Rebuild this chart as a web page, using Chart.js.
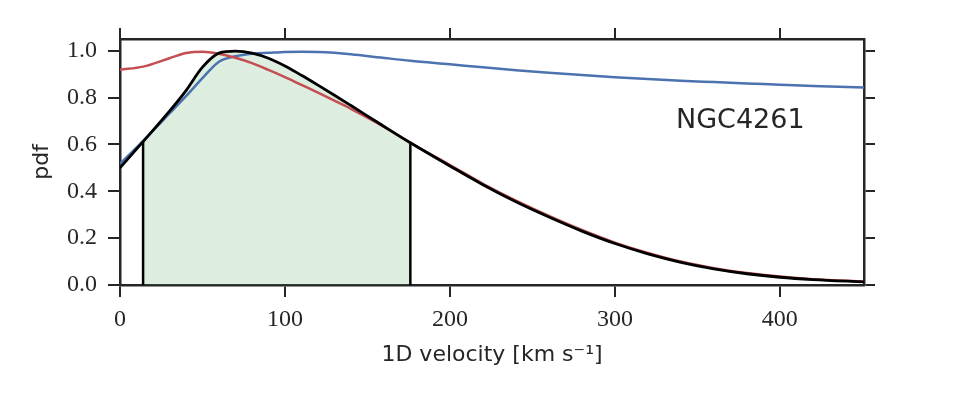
<!DOCTYPE html>
<html>
<head>
<meta charset="utf-8">
<script src="https://cdn.jsdelivr.net/npm/chart.js@4"></script>
<style>
  html, body { margin: 0; padding: 0; background: #fff; }
  #wrap { width: 960px; height: 396px; }
</style>
</head>
<body>
<div id="wrap"><canvas id="grafico"></canvas></div>
<script>
// velocity grid [km/s] and the three pdf curves
const velocity = [0, 14, 30, 40, 50, 60, 70, 80, 90, 100, 110, 120, 130, 140, 158, 176,
                  200, 220, 240, 260, 280, 300, 320, 340, 360, 380, 400, 420, 451];
const pdfBlue  = [0.517, 0.615, 0.732, 0.806, 0.883, 0.953, 0.976, 0.987, 0.991, 0.995, 0.996, 0.995, 0.991, 0.985, 0.971, 0.957,
                  0.942, 0.929, 0.917, 0.906, 0.896, 0.887, 0.879, 0.872, 0.866, 0.860, 0.855, 0.849, 0.843];
const pdfRed   = [0.919, 0.932, 0.968, 0.990, 0.996, 0.987, 0.970, 0.947, 0.918, 0.887, 0.854, 0.821, 0.787, 0.752, 0.683, 0.607,
                  0.512, 0.432, 0.360, 0.295, 0.235, 0.181, 0.137, 0.100, 0.072, 0.051, 0.036, 0.025, 0.015];
const pdfBlack = [0.500, 0.612, 0.742, 0.830, 0.930, 0.990, 0.998, 0.990, 0.968, 0.935, 0.895, 0.853, 0.810, 0.766, 0.686, 0.607,
                  0.508, 0.428, 0.355, 0.290, 0.230, 0.177, 0.133, 0.097, 0.069, 0.048, 0.033, 0.023, 0.013];

// shaded interval
const intervalLow = 14;
const intervalHigh = 176;

const xTicks = [0, 100, 200, 300, 400];
const yTicks = [0, 0.2, 0.4, 0.6, 0.8, 1.0];
const xMax = 451;
const yMax = 1.05;
const galaxyName = 'NGC4261';

const ink = '#262626';

function puntos(vals) {
    return velocity.map((v, i) => ({ x: v, y: vals[i] }));
}

function valorEn(vals, v) {
    const i = velocity.indexOf(v);
    return vals[i];
}

const relleno = puntos(pdfBlack).filter(p => p.x >= intervalLow && p.x <= intervalHigh);

const galaxyLabel = {
    id: 'galaxyLabel',
    afterDatasetsDraw(chart) {
        const { ctx, scales } = chart;
        ctx.save();
        ctx.font = '27px "DejaVu Sans"';
        ctx.fillStyle = ink;
        ctx.textAlign = 'center';
        ctx.textBaseline = 'middle';
        ctx.fillText(galaxyName, scales.x.getPixelForValue(376), scales.y.getPixelForValue(0.70));
        ctx.restore();
    }
};

const serifTicks = { family: '"Liberation Serif", "DejaVu Serif", serif', size: 24 };
const sansTitle = { family: '"DejaVu Sans", sans-serif', size: 22 };

const ctx = document.getElementById('grafico').getContext('2d');
new Chart(ctx, {
    type: 'line',
    data: {
        datasets: [
            {
                data: relleno,
                borderWidth: 0,
                pointRadius: 0,
                fill: 'origin',
                backgroundColor: 'rgba(85, 168, 104, 0.2)',
                cubicInterpolationMode: 'monotone',
                order: 5
            },
            {
                data: puntos(pdfBlue),
                borderColor: '#4c72b0',
                borderWidth: 2.5,
                pointRadius: 0,
                fill: false,
                cubicInterpolationMode: 'monotone',
                order: 4
            },
            {
                data: puntos(pdfRed),
                borderColor: '#c44e52',
                borderWidth: 2.5,
                pointRadius: 0,
                fill: false,
                cubicInterpolationMode: 'monotone',
                order: 3
            },
            {
                data: [{ x: intervalLow, y: 0 }, { x: intervalLow, y: valorEn(pdfBlack, intervalLow) }],
                borderColor: '#000',
                borderWidth: 2.5,
                pointRadius: 0,
                fill: false,
                order: 2
            },
            {
                data: [{ x: intervalHigh, y: 0 }, { x: intervalHigh, y: valorEn(pdfBlack, intervalHigh) }],
                borderColor: '#000',
                borderWidth: 2.5,
                pointRadius: 0,
                fill: false,
                order: 2
            },
            {
                data: puntos(pdfBlack),
                borderColor: '#000',
                borderWidth: 2.8,
                pointRadius: 0,
                fill: false,
                cubicInterpolationMode: 'monotone',
                order: 1
            }
        ]
    },
    options: {
        responsive: true,
        maintainAspectRatio: false,
        animation: false,
        events: [],
        layout: { padding: { left: 0, right: 84, top: 29, bottom: 0 } },
        plugins: { legend: { display: false }, tooltip: { enabled: false } },
        scales: {
            x: {
                type: 'linear',
                position: 'bottom',
                min: 0,
                max: xMax,
                afterFit: s => { s.height = 111; },
                afterBuildTicks: s => { s.ticks = xTicks.map(v => ({ value: v })); },
                ticks: { color: ink, font: serifTicks, padding: 8, maxRotation: 0, callback: v => String(v) },
                grid: { drawOnChartArea: false, color: ink, lineWidth: 2, tickLength: 12 },
                border: { color: ink, width: 2.5 },
                title: { display: true, text: '1D velocity [km s⁻¹]', color: ink, font: sansTitle, padding: { top: 0, bottom: 28 } }
            },
            x2: {
                type: 'linear',
                position: 'top',
                min: 0,
                max: xMax,
                afterFit: s => { s.height = 10; },
                afterBuildTicks: s => { s.ticks = xTicks.map(v => ({ value: v })); },
                ticks: { display: false },
                grid: { drawOnChartArea: false, color: ink, lineWidth: 2, tickLength: 11 },
                border: { color: ink, width: 2.5 }
            },
            y: {
                type: 'linear',
                position: 'left',
                min: 0,
                max: yMax,
                afterFit: s => { s.width = 120; },
                afterBuildTicks: s => { s.ticks = yTicks.map(v => ({ value: v })); },
                ticks: { color: ink, font: serifTicks, padding: 11, callback: v => v.toFixed(1) },
                grid: { drawOnChartArea: false, color: ink, lineWidth: 2, tickLength: 12 },
                border: { color: ink, width: 2.5 },
                title: { display: true, text: 'pdf', color: ink, font: sansTitle, padding: { top: 29, bottom: 0 } }
            },
            y2: {
                type: 'linear',
                position: 'right',
                min: 0,
                max: yMax,
                afterFit: s => { s.width = 12; },
                afterBuildTicks: s => { s.ticks = yTicks.map(v => ({ value: v })); },
                ticks: { display: false },
                grid: { drawOnChartArea: false, color: ink, lineWidth: 2, tickLength: 11 },
                border: { color: ink, width: 2.5 }
            }
        }
    },
    plugins: [galaxyLabel]
});
</script>
</body>
</html>
